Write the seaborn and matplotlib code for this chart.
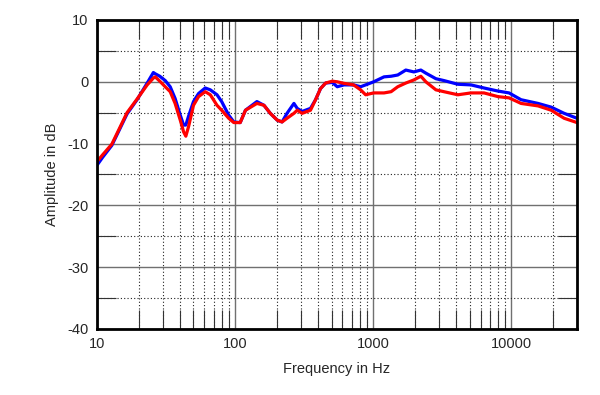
import matplotlib
matplotlib.use("Agg")
import matplotlib.pyplot as plt
from matplotlib.ticker import FixedLocator, LogLocator, NullFormatter, FuncFormatter
import seaborn as sns
import pandas as pd

# frequency points (Hz)
freq = [10, 11, 12.8, 14.5, 16.5, 19.5, 23.1, 25.6, 26.4, 28.5, 31.2, 33.9, 36.8, 40.1,
        42.4, 44, 46, 50, 54.4, 60.8, 66.2, 74, 80, 90, 98, 109, 119, 144, 162, 180,
        202, 219, 238, 267, 282, 306, 352, 383, 416, 453, 506, 550, 615, 722, 812,
        883, 1010, 1200, 1350, 1509, 1726, 1974, 2218, 2411, 2851, 3258, 4114, 5114,
        6357, 8034, 9659, 11800, 15670, 19500, 24200, 30000]

# blue trace (dB)
blue = [-13.5, -12.2, -10.3, -7.8, -5.2, -2.9, -0.2, 1.5, 1.3, 0.9, 0.2, -0.8, -2.7,
        -5.4, -7.0, -7.0, -5.6, -3.2, -1.9, -1.0, -1.3, -2.1, -3.2, -5.4, -6.5, -6.6,
        -4.6, -3.2, -3.8, -5.1, -6.2, -6.5, -5.1, -3.5, -4.3, -4.8, -4.3, -2.9, -1.1,
        -0.2, -0.1, -0.8, -0.5, -0.5, -0.8, -0.5, 0.0, 0.8, 0.9, 1.1, 1.9, 1.6, 1.9,
        1.4, 0.5, 0.2, -0.4, -0.5, -1.0, -1.5, -1.8, -2.9, -3.5, -4.1, -5.1, -5.9]

# red trace (dB)
red = [-12.9, -11.8, -10.1, -7.6, -5.0, -2.8, -0.5, 0.6, 0.8, 0.1, -0.8, -1.6, -3.5,
       -6.2, -8.1, -8.8, -7.3, -3.8, -2.4, -1.6, -2.1, -3.8, -4.6, -5.9, -6.6, -6.6,
       -4.6, -3.5, -3.8, -5.1, -6.2, -6.5, -5.9, -5.1, -4.6, -5.1, -4.6, -2.9, -1.1,
       -0.2, 0.1, 0.0, -0.25, -0.5, -1.3, -2.1, -1.8, -1.8, -1.6, -0.8, -0.2, 0.3,
       0.9, 0.0, -1.3, -1.6, -2.1, -1.8, -1.8, -2.4, -2.6, -3.5, -3.9, -4.6, -5.9, -6.6]

df = pd.DataFrame({
    "freq": freq + freq,
    "level": blue + red,
    "trace": ["blue"] * len(freq) + ["red"] * len(freq),
})

sns.set_style("white")
plt.rcParams['font.family'] = ['Liberation Sans', 'DejaVu Sans']
plt.rcParams['axes.unicode_minus'] = False

fig = plt.figure(figsize=(6, 3.95), dpi=100)
ax = fig.add_axes([97 / 600, 66 / 395, 480 / 600, 309 / 395])

sns.lineplot(data=df, x="freq", y="level", hue="trace",
             palette={"blue": "#0000ff", "red": "#ff0000"},
             estimator=None, sort=False, linewidth=2.3, legend=False, ax=ax)

ax.set_xscale("log")
ax.set_xlim(10, 30000)
ax.set_ylim(-40, 10)

ax.xaxis.set_major_locator(FixedLocator([10, 100, 1000, 10000]))
ax.xaxis.set_minor_locator(LogLocator(base=10, subs=range(2, 10)))
ax.xaxis.set_major_formatter(FuncFormatter(lambda v, p: f"{v:g}"))
ax.xaxis.set_minor_formatter(NullFormatter())
ax.set_yticks(range(-40, 11, 10))
ax.set_yticks(range(-35, 10, 10), minor=True)

ax.grid(which="major", color="#707070", linewidth=1.0, linestyle="-")
ax.grid(which="minor", color="#222222", linewidth=0.8, linestyle=(0, (1, 2)))
ax.set_axisbelow(True)

ax.tick_params(which="major", direction="in", length=0, pad=6, labelsize=10.5)
ax.tick_params(which="minor", direction="in", length=14, width=0.8,
               color="#333333", top=True, right=True, bottom=True, left=True)

for s in ax.spines.values():
    s.set_color("black")
    s.set_linewidth(2)

ax.set_xlabel("Frequency in Hz", fontsize=10.5, labelpad=8)
ax.set_ylabel("Amplitude in dB", fontsize=10.5, labelpad=6)

fig.savefig("out.png", dpi=100)
